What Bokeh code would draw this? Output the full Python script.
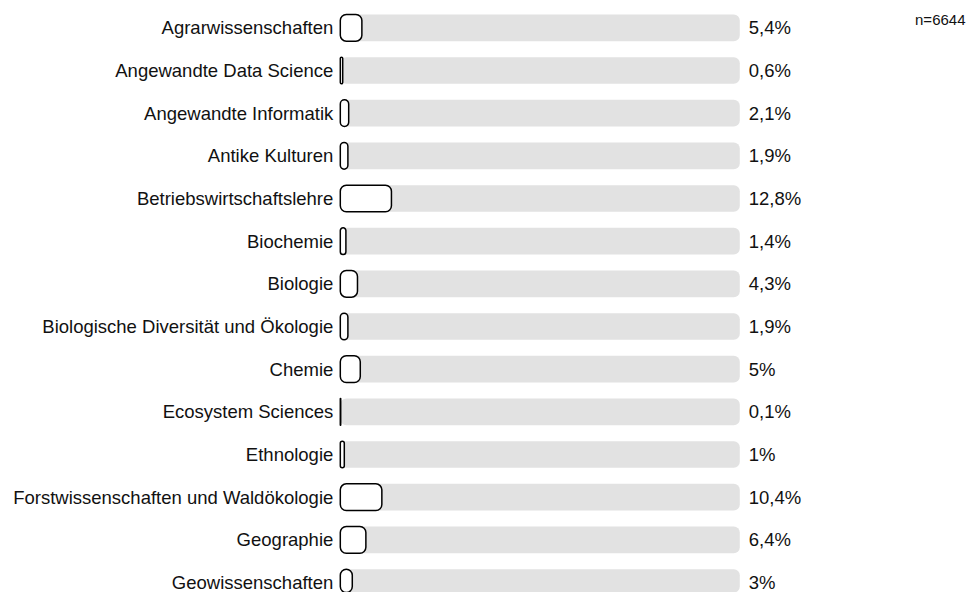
from bokeh.plotting import figure
from bokeh.models import Range1d, ColumnDataSource
from bokeh.core.properties import value
from bokeh.embed import file_html
from bokeh.resources import INLINE

categories = [
    "Agrarwissenschaften",
    "Angewandte Data Science",
    "Angewandte Informatik",
    "Antike Kulturen",
    "Betriebswirtschaftslehre",
    "Biochemie",
    "Biologie",
    "Biologische Diversität und Ökologie",
    "Chemie",
    "Ecosystem Sciences",
    "Ethnologie",
    "Forstwissenschaften und Waldökologie",
    "Geographie",
    "Geowissenschaften",
]
percent = [5.4, 0.6, 2.1, 1.9, 12.8, 1.4, 4.3, 1.9, 5.0, 0.1, 1.0, 10.4, 6.4, 3.0]
track_max = 100
n_total = 6644

rows = list(range(len(categories)))
labels = [f"{v:g}".replace(".", ",") + "%" for v in percent]

src = ColumnDataSource(dict(
    y=rows,
    cat=categories,
    val=percent,
    full=[track_max] * len(categories),
    zero=[0] * len(categories),
    lab=labels,
))

FONT = value("Liberation Sans")

p = figure(
    width=967, height=592,
    output_backend="svg", toolbar_location=None,
    x_range=Range1d(-85.06, 157.0),
    y_range=Range1d(13.234, -0.640),
    x_axis_type=None, y_axis_type=None,
    min_border=0,
)
p.grid.visible = False
p.outline_line_color = None
p.background_fill_color = "white"
p.border_fill_color = "white"

# grey tracks
p.hbar(y="y", left="zero", right="full", height=0.625, source=src,
       fill_color="#e2e2e2", line_color=None, border_radius=6)
# value bars
p.hbar(y="y", left="zero", right="val", height=0.625, source=src,
       fill_color="white", line_color="black", line_width=1.5, border_radius=6)

# category labels
p.text(x="zero", y="y", text="cat", source=src, x_offset=-7,
       text_align="right", text_baseline="middle",
       text_font=FONT, text_font_size="18.5px", text_color="#111111")
# value labels
p.text(x="full", y="y", text="lab", source=src, x_offset=9,
       text_align="left", text_baseline="middle",
       text_font=FONT, text_font_size="18.5px", text_color="#111111")

# n label
p.text(x=[156.5], y=[0], text=[f"n={n_total}"], y_offset=-8,
       text_align="right", text_baseline="middle",
       text_font=FONT, text_font_size="15px", text_color="#111111")

open("out.html", "w").write(file_html(p, INLINE))
